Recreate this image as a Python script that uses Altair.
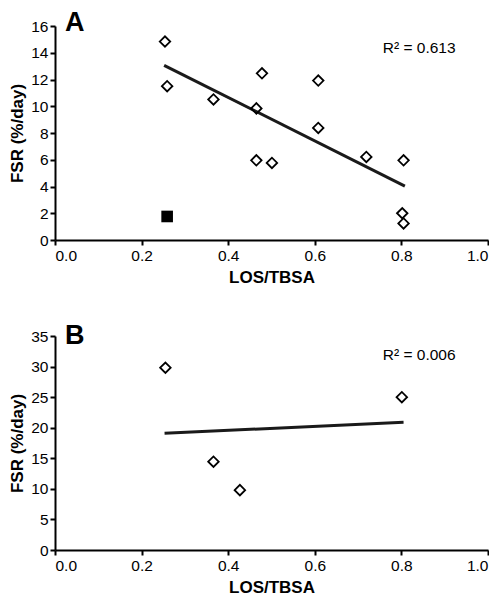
import altair as alt
import pandas as pd

# Panel A data
a_x = [0.254, 0.259, 0.366, 0.465, 0.478, 0.608, 0.608, 0.465, 0.501, 0.719, 0.805, 0.802, 0.805]
a_y = [14.84, 11.50, 10.51, 9.84, 12.46, 11.92, 8.38, 5.96, 5.76, 6.21, 5.96, 2.00, 1.24]
a_out_x = [0.259]
a_out_y = [1.76]
a_fit_x = [0.252, 0.808]
a_fit_y = [13.06, 4.03]
a_r2 = "R\u00b2 = 0.613"

# Panel B data
b_x = [0.255, 0.366, 0.427, 0.801]
b_y = [29.81, 14.44, 9.79, 24.99]
b_fit_x = [0.253, 0.805]
b_fit_y = [19.10, 20.88]
b_r2 = "R\u00b2 = 0.006"

x_ticks = [0.0, 0.2, 0.4, 0.6, 0.8, 1.0]
a_y_ticks = [0, 2, 4, 6, 8, 10, 12, 14, 16]
b_y_ticks = [0, 5, 10, 15, 20, 25, 30, 35]

FONT = "Liberation Sans"
W, H = 433, 214


def panel(px, py, fx, fy, r2, letter, ymax, yticks, r2_y, letter_y, sq_x=None, sq_y=None):
    xenc = alt.X("x:Q", scale=alt.Scale(domain=[0, 1], nice=False),
                 axis=alt.Axis(values=x_ticks, format=".1f", title="LOS/TBSA",
                               labelPadding=3, titlePadding=6))
    yenc = alt.Y("y:Q", scale=alt.Scale(domain=[0, ymax], nice=False),
                 axis=alt.Axis(values=yticks, format="d", title="FSR (%/day)",
                               labelPadding=2, titlePadding=4))
    pts = alt.Chart(pd.DataFrame({"x": px, "y": py})).mark_point(
        shape="diamond", filled=False, color="black", strokeWidth=1.8, size=110, opacity=1
    ).encode(x=xenc, y=yenc)
    fit = alt.Chart(pd.DataFrame({"x": fx, "y": fy})).mark_line(
        color="#1a1a1a", strokeWidth=3
    ).encode(x=xenc, y=yenc)
    txt = alt.Chart(pd.DataFrame({"x": [0.757], "y": [r2_y], "t": [r2]})).mark_text(
        align="left", baseline="alphabetic", font=FONT, fontSize=15.5, color="black"
    ).encode(x=xenc, y=yenc, text="t:N")
    let = alt.Chart(pd.DataFrame({"x": [0.023], "y": [letter_y], "t": [letter]})).mark_text(
        align="left", baseline="alphabetic", font=FONT, fontSize=27, fontWeight="bold", color="black"
    ).encode(x=xenc, y=yenc, text="t:N")
    layers = [fit, pts]
    if sq_x is not None:
        sq = alt.Chart(pd.DataFrame({"x": sq_x, "y": sq_y})).mark_point(
            shape="square", filled=True, color="black", size=135, opacity=1
        ).encode(x=xenc, y=yenc)
        layers.append(sq)
    layers += [txt, let]
    return alt.layer(*layers).properties(width=W, height=H)


pa = panel(a_x, a_y, a_fit_x, a_fit_y, a_r2, "A", 16, a_y_ticks, 14.0, 15.63, a_out_x, a_out_y)
pb = panel(b_x, b_y, b_fit_x, b_fit_y, b_r2, "B", 35, b_y_ticks, 31.06, 33.7)

chart = alt.vconcat(pa, pb, spacing=96, bounds="flush").properties(
    padding=0
).configure_view(stroke=None).configure_axis(
    grid=False, domainColor="black", domainWidth=2, tickColor="black", tickWidth=2,
    tickSize=5, labelFont=FONT, labelFontSize=15.5, labelColor="black",
    titleFont=FONT, titleFontSize=17, titleFontWeight="bold", titleColor="black"
)

chart.save("out.html", embed_options={"renderer": "svg", "actions": False})
